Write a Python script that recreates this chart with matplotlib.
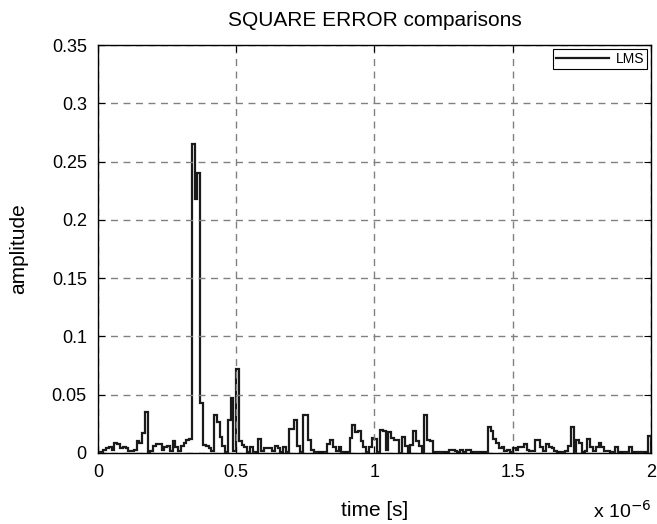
import matplotlib.pyplot as plt
import numpy as np
from matplotlib.ticker import FuncFormatter

plt.rcParams['font.family'] = ['Liberation Sans', 'DejaVu Sans']

# square error samples, one every 10 ns
err_lms = [
    0.001, 0.001, 0.003, 0.004, 0.005, 0.003, 0.009, 0.008, 0.004, 0.005,
    0.004, 0.002, 0.002, 0.003, 0.010, 0.009, 0.017, 0.035, 0.001, 0.002,
    0.006, 0.008, 0.008, 0.003, 0.005, 0.006, 0.002, 0.010, 0.005, 0.002,
    0.006, 0.009, 0.011, 0.012, 0.265, 0.218, 0.240, 0.043, 0.007, 0.006,
    0.004, 0.002, 0.033, 0.027, 0.014, 0.006, 0.001, 0.028, 0.047, 0.002,
    0.072, 0.010, 0.007, 0.005, 0.001, 0.005, 0.001, 0.001, 0.012, 0.002,
    0.004, 0.004, 0.004, 0.002, 0.006, 0.004, 0.001, 0.005, 0.001, 0.021,
    0.021, 0.028, 0.006, 0.001, 0.033, 0.033, 0.011, 0.003, 0.001, 0.001,
    0.001, 0.001, 0.001, 0.008, 0.011, 0.005, 0.002, 0.005, 0.001, 0.001,
    0.001, 0.013, 0.024, 0.018, 0.019, 0.010, 0.005, 0.001, 0.005, 0.013,
    0.012, 0.001, 0.020, 0.019, 0.003, 0.018, 0.013, 0.011, 0.011, 0.000,
    0.014, 0.006, 0.000, 0.007, 0.019, 0.010, 0.006, 0.000, 0.033, 0.011,
    0.010, 0.001, 0.0005, 0.0005, 0.0005, 0.0005, 0.0005, 0.003, 0.003, 0.002,
    0.001, 0.003, 0.001, 0.003, 0.003, 0.0005, 0.0005, 0.0005, 0.0005, 0.0005,
    0.0005, 0.022, 0.019, 0.012, 0.009, 0.004, 0.005, 0.002, 0.003, 0.001,
    0.004, 0.003, 0.005, 0.005, 0.008, 0.003, 0.002, 0.002, 0.011, 0.011,
    0.005, 0.002, 0.008, 0.005, 0.004, 0.002, 0.001, 0.0005, 0.0005, 0.002,
    0.006, 0.022, 0.001, 0.011, 0.009, 0.001, 0.002, 0.012, 0.005, 0.002,
    0.005, 0.009, 0.005, 0.002, 0.002, 0.0005, 0.0005, 0.005, 0.001, 0.001,
    0.001, 0.001, 0.005, 0.001, 0.001, 0.001, 0.001, 0.001, 0.001, 0.015,
]
dt = 1e-8
t_edges = np.arange(len(err_lms) + 1) * dt

xticks = [0, 0.5e-6, 1e-6, 1.5e-6, 2e-6]
yticks = [0, 0.05, 0.1, 0.15, 0.2, 0.25, 0.3, 0.35]

fig = plt.figure(figsize=(6.57, 5.24), dpi=100)
ax = fig.add_axes([0.149, 0.1355, 0.842, 0.7785])

ax.stairs(err_lms, t_edges, color='#1a1a1a', linewidth=1.6, label='LMS')

ax.set_xlim(0, 2e-6)
ax.set_ylim(0, 0.35)
ax.set_xticks(xticks)
ax.set_yticks(yticks)
ax.xaxis.set_major_formatter(FuncFormatter(lambda v, p: '%g' % round(v * 1e6, 3)))
ax.yaxis.set_major_formatter(FuncFormatter(lambda v, p: '%g' % round(v, 3)))
ax.tick_params(direction='in', length=5, labelsize=13, top=True, right=True, pad=8)
ax.grid(True, linestyle=(0, (5, 4)), color='#808080', linewidth=1.0)
for s in ax.spines.values():
    s.set_linewidth(1.0)

ax.set_title('SQUARE ERROR comparisons', fontsize=15, pad=14)
ax.set_xlabel('time [s]', fontsize=15, labelpad=14)
ax.set_ylabel('amplitude', fontsize=15, labelpad=17)
fig.text(0.991, 0.005, r'x 10$^{-6}$', ha='right', va='bottom', fontsize=14)

leg = ax.legend(loc='upper right', fontsize=10, fancybox=False, edgecolor='black',
                framealpha=1, borderpad=0.2, handlelength=3.8, handletextpad=0.5,
                borderaxespad=0.3)
leg.get_frame().set_linewidth(0.8)

fig.savefig('out.png', dpi=100)
